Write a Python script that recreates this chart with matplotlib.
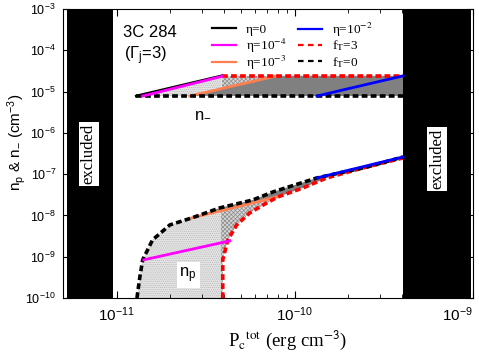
import numpy as np
import matplotlib
matplotlib.use("Agg")
import matplotlib.pyplot as plt
from matplotlib.patches import Polygon
from matplotlib.legend import Legend

plt.rcParams['font.family'] = ['Liberation Sans', 'DejaVu Sans']
plt.rcParams['mathtext.fontset'] = 'custom'
plt.rcParams['mathtext.rm'] = 'Liberation Sans'
plt.rcParams['mathtext.it'] = 'Liberation Sans:italic'
plt.rcParams['mathtext.sf'] = 'Liberation Sans'
plt.rcParams['hatch.linewidth'] = 0.5

# ---------------- data ----------------
# excluded pressure ranges
excl_left = [5.25e-12, 9.5e-12]
excl_right = [4.05e-10, 9.8e-10]

# n_- (upper) region
nm_lo, nm_hi = 7.8e-6, 2.4e-5
up_eta0_x = [1.29e-11, 3.89e-11]; up_eta0_y = [nm_lo, nm_hi]
up_eta4_x = [1.40e-11, 3.89e-11]; up_eta4_y = [nm_lo, 2.33e-5]
up_eta3_x = [2.57e-11, 7.92e-11]; up_eta3_y = [nm_lo, nm_hi]
up_eta2_x = [1.33e-10, 4.05e-10]; up_eta2_y = [nm_lo, nm_hi]
up_fT3_x = [3.89e-11, 4.05e-10]; up_fT3_y = [nm_hi, nm_hi]
up_fT0_x = [1.29e-11, 4.05e-10]; up_fT0_y = [nm_lo, nm_lo]

# n_p (lower) region
fT0_x = [1.30e-11, 1.35e-11, 1.40e-11, 1.59e-11, 1.99e-11, 2.64e-11, 3.79e-11,
         5.81e-11, 7.52e-11, 1.33e-10, 2.54e-10, 4.05e-10]
fT0_y = [1.0e-10, 3.24e-10, 8.4e-10, 2.55e-9, 5.9e-9, 8.7e-9, 1.52e-8,
         2.37e-8, 3.7e-8, 8.1e-8, 1.49e-7, 2.61e-7]
fT3_x = [3.94e-11, 3.94e-11, 4.21e-11, 4.72e-11, 5.58e-11, 6.96e-11, 8.02e-11,
         1.11e-10, 1.51e-10, 2.41e-10, 4.05e-10]
fT3_y = [1.0e-10, 8.4e-10, 2.55e-9, 5.9e-9, 1.15e-8, 2.01e-8, 2.8e-8,
         4.63e-8, 8.1e-8, 1.41e-7, 2.47e-7]
lo_eta4_x = [1.42e-11, 4.32e-11]; lo_eta4_y = [8.4e-10, 2.42e-9]
lo_eta3_x = [2.64e-11, 7.92e-11]; lo_eta3_y = [8.7e-9, 2.8e-8]
lo_eta2_x = [1.33e-10, 4.05e-10]; lo_eta2_y = [8.1e-8, 2.61e-7]

x_split = 3.85e-11  # boundary of the light stipple area

labels = [r'η=0', r'η=10$^{-4}$', r'η=10$^{-3}$', r'η=10$^{-2}$',
          r'f$_\mathrm{T}$=3', r'f$_\mathrm{T}$=0']

c_eta0, c_eta4, c_eta3, c_eta2 = 'black', '#ff00ff', '#ff7f50', '#0000ff'
c_fT3, c_fT0 = '#ff0000', 'black'

# ---------------- figure ----------------
fig = plt.figure(figsize=(4.79, 3.54), dpi=100)
ax = fig.add_axes([63/479, 56/354, 410/479, 289/354])
ax.set_xscale('log'); ax.set_yscale('log')
ax.set_xlim(5e-12, 1e-9)
ax.set_ylim(1e-10, 1e-3)


def lint(x, xs, ys):
    return 10**np.interp(np.log10(x), np.log10(xs), np.log10(ys))

light = dict(facecolor='#e4e4e4', edgecolor='#b8b8b8', hatch='........', lw=0, zorder=1)
cross = dict(facecolor='#d6d6d6', edgecolor='#8c8c8c', hatch='xxxxxxxx', lw=0, zorder=1)
dark = dict(facecolor='#808080', edgecolor='none', lw=0, zorder=1)

# upper fills
xs_up = up_eta0_x[1]
y_or = lint(xs_up, up_eta3_x, up_eta3_y)
ax.add_patch(Polygon([(up_eta0_x[0], nm_lo), (xs_up, nm_hi), (xs_up, y_or),
                      (up_eta3_x[0], nm_lo)], closed=True, **light))
ax.add_patch(Polygon([(xs_up, y_or), (xs_up, nm_hi), (up_eta3_x[1], nm_hi)],
                     closed=True, **cross))
ax.add_patch(Polygon([(up_eta3_x[0], nm_lo), (up_eta3_x[1], nm_hi),
                      (up_fT3_x[1], nm_hi), (up_fT0_x[1], nm_lo)], closed=True, **dark))

# lower fills
y_or_lo = lint(x_split, lo_eta3_x, lo_eta3_y)
pts = [(x, y) for x, y in zip(fT0_x, fT0_y) if x < lo_eta3_x[0]]
pts += [(lo_eta3_x[0], lo_eta3_y[0]), (x_split, y_or_lo), (x_split, 1e-10)]
ax.add_patch(Polygon(pts, closed=True, **light))
pts = [(x_split, 1e-10), (x_split, y_or_lo), (lo_eta3_x[1], lo_eta3_y[1])]
pts += [(x, y) for x, y in zip(fT3_x[::-1], fT3_y[::-1]) if x < lo_eta3_x[1] - 1e-13]
ax.add_patch(Polygon(pts, closed=True, **cross))
pts = [(lo_eta3_x[0], lo_eta3_y[0]), (lo_eta3_x[1], lo_eta3_y[1])]
pts += [(x, y) for x, y in zip(fT3_x, fT3_y) if lo_eta3_x[1] < x <= lo_eta2_x[0] * 1.2]
pts += [(x, y) for x, y in zip(fT0_x[::-1], fT0_y[::-1]) if lo_eta3_x[0] < x <= lo_eta2_x[0]]
ax.add_patch(Polygon(pts, closed=True, **dark))

# excluded regions
for lo, hi in (excl_left, excl_right):
    ax.axvspan(lo, hi, color='black', lw=0, zorder=2)

dash = (0, (1.6, 0.9))
lwd = 2.6
lwc = 2.0
# dashed curves
ax.plot(up_fT3_x, up_fT3_y, color=c_fT3, ls=dash, lw=lwd, zorder=4)
ax.plot(up_fT0_x, up_fT0_y, color=c_fT0, ls=dash, lw=lwd, zorder=4)
ax.plot(fT3_x, fT3_y, color=c_fT3, ls=dash, lw=lwd, zorder=4)
ax.plot(fT0_x, fT0_y, color=c_fT0, ls=dash, lw=lwd, zorder=4)
# eta lines
ax.plot(up_eta3_x, up_eta3_y, color=c_eta3, lw=lwc, zorder=3)
ax.plot(lo_eta3_x, lo_eta3_y, color=c_eta3, lw=lwc, zorder=3)
ax.plot(up_eta0_x, up_eta0_y, color=c_eta0, lw=lwc, zorder=5)
ax.plot(up_eta4_x, up_eta4_y, color=c_eta4, lw=lwc, zorder=5)
ax.plot(lo_eta4_x, lo_eta4_y, color=c_eta4, lw=lwc, zorder=5)
ax.plot(up_eta2_x, up_eta2_y, color=c_eta2, lw=lwc, zorder=5)
ax.plot(lo_eta2_x, lo_eta2_y, color=c_eta2, lw=lwc, zorder=5)

# legend: one single-entry legend per slot (2 columns x 3 rows)
hdash = (0, (2.5, 2))
handles = [plt.Line2D([], [], color=c_eta0, lw=1.6),
           plt.Line2D([], [], color=c_eta4, lw=1.6),
           plt.Line2D([], [], color=c_eta3, lw=1.6),
           plt.Line2D([], [], color=c_eta2, lw=1.6),
           plt.Line2D([], [], color=c_fT3, lw=1.6, ls=hdash),
           plt.Line2D([], [], color=c_fT0, lw=1.6, ls=hdash)]
col_x = [0.3634, 0.573]
row_y = [0.929, 0.872, 0.815]
for i, (hd, lb) in enumerate(zip(handles, labels)):
    lg = Legend(ax, [hd], [lb], frameon=False, loc='center left',
                bbox_to_anchor=(col_x[i // 3], row_y[i % 3]),
                borderpad=0, borderaxespad=0, handlelength=1.85,
                handletextpad=0.7, prop={'family': 'Liberation Serif', 'size': 9.5})
    for t in lg.get_texts():
        t.set_math_fontfamily('stix')
    ax.add_artist(lg)

# texts
ax.text(0.147, 0.919, '3C 284', transform=ax.transAxes, fontsize=12, ha='left', va='center')
ax.text(0.150, 0.84, r'($\Gamma_\mathrm{j}$=3)', transform=ax.transAxes, fontsize=12,
        ha='left', va='center')
ax.text(0.34, 0.64, r'n$_\mathrm{-}$', transform=ax.transAxes, fontsize=12,
        ha='center', va='center')
ax.text(0.305, 0.08, r'n$_\mathrm{p}$', transform=ax.transAxes, fontsize=12,
        ha='center', va='center', zorder=6,
        bbox=dict(facecolor='white', edgecolor='none', pad=2))
for xf, yf in ((0.063, 0.497), (0.912, 0.48)):
    ax.text(xf, yf, 'excluded', transform=ax.transAxes, rotation=90, fontsize=12,
            family='Liberation Serif', ha='center', va='center', zorder=6,
            bbox=dict(facecolor='white', edgecolor='none', pad=1.5))

# axes styling
ax.tick_params(which='both', direction='in', top=True, right=True, pad=5)
ax.tick_params(axis='x', labelsize=11)
ax.tick_params(axis='y', labelsize=9)
ax.tick_params(which='major', length=5, width=0.8)
ax.tick_params(which='minor', length=3, width=0.6)
ax.yaxis.set_minor_locator(matplotlib.ticker.NullLocator())
ax.set_yticks([1e-10, 1e-9, 1e-8, 1e-7, 1e-6, 1e-5, 1e-4, 1e-3])
ax.set_xticks([1e-11, 1e-10, 1e-9])
ax.set_xticklabels([r'10$^{-11}$', r'10$^{-10}$', r'10$^{-9}$'])
ax.get_xticklabels()[-1].set_horizontalalignment('right')
ax.set_xlim(5e-12, 1e-9)

fig.text(288/479, 1 - 340/354, r'P$_\mathrm{c}$$^\mathrm{tot}$ (erg cm$^{\mathsf{-3}}$)',
         ha='center', va='center', fontsize=13.5, family='Liberation Serif',
         math_fontfamily='stix')
fig.text(17/479, 1 - 142/354, r'n$_\mathrm{p}$ & n$_\mathrm{-}$ (cm$^{-3}$)',
         ha='center', va='center', rotation=90, fontsize=11)

fig.savefig('out.png', dpi=100)
